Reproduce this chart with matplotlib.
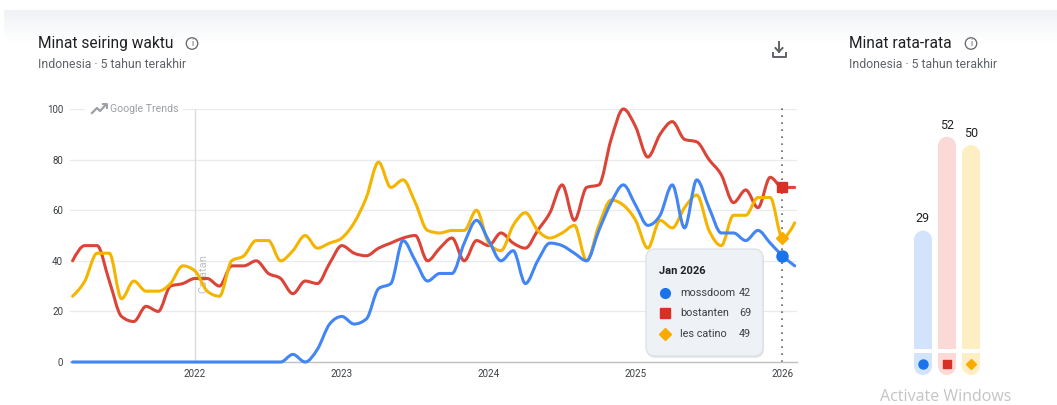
import matplotlib
matplotlib.use("Agg")
import matplotlib.pyplot as plt
import numpy as np
import pandas as pd
from matplotlib.patches import FancyBboxPatch, Ellipse, Rectangle, PathPatch
from matplotlib.lines import Line2D
from matplotlib.path import Path

plt.rcParams['font.family'] = ['Roboto', 'DejaVu Sans']

# ---------------- data ----------------
months = pd.date_range("2021-03-01", periods=60, freq="MS")
mossdoom = [0, 0, 0, 0, 0, 0, 0, 0, 0, 0, 0, 0, 0, 0, 0, 0, 0, 0, 3, 0,
            5, 15, 18, 15, 17, 29, 31, 48, 40, 32, 35, 35, 47, 56, 48, 40, 44, 31, 40, 47,
            46, 43, 40, 52, 63, 70, 62, 54, 58, 70, 53, 72, 61, 51, 51, 48, 52, 47, 42, 38]
bostanten = [40, 46, 46, 32, 18, 16, 22, 20, 30, 31, 33, 33, 30, 38, 38, 40, 35, 33, 27, 32,
             31, 39, 46, 43, 42, 45, 47, 49, 50, 40, 45, 49, 40, 48, 46, 51, 47, 45, 52, 59,
             70, 56, 69, 70, 88, 100, 93, 81, 90, 95, 88, 87, 80, 74, 63, 68, 61, 73, 69, 69]
les_catino = [26, 32, 43, 43, 25, 32, 28, 28, 31, 38, 36, 28, 26, 40, 42, 48, 48, 40, 44, 50,
              45, 47, 49, 55, 65, 79, 69, 72, 63, 52, 51, 52, 52, 60, 47, 44, 54, 59, 52, 49,
              51, 54, 40, 54, 64, 62, 56, 45, 56, 53, 61, 66, 52, 46, 58, 58, 65, 65, 49, 55]
series_names = ["mossdoom", "bostanten", "les catino"]
avg_values = [29, 52, 50]
year_ticks = [2022, 2023, 2024, 2025, 2026]
y_ticks = [0, 20, 40, 60, 80, 100]
hover_label = "Jan 2026"
hover_index = 58

# ---------------- style ----------------
line_colors = ["#4285f4", "#db4437", "#f4b400"]
marker_colors = ["#1a73e8", "#d93025", "#f9ab00"]
light_colors = ["#d3e3fc", "#fbd9d6", "#feeec4"]
markers = ["o", "s", "D"]

W, H = 1057, 405
fig = plt.figure(figsize=(W / 100, H / 100), dpi=100)
fig.patch.set_facecolor("white")


def fx(px):
    return px / W


def fy(py):
    return 1 - py / H


def smooth_path(xs, ys):
    """Monotone cubic (d3 monotoneX-style) Bezier path through the data points."""
    xs = np.asarray(xs, float)
    ys = np.asarray(ys, float)
    h = np.diff(xs)
    s = np.diff(ys) / h
    n = len(xs)
    t = np.zeros(n)
    for i in range(1, n - 1):
        p = (s[i - 1] * h[i] + s[i] * h[i - 1]) / (h[i - 1] + h[i])
        t[i] = (np.sign(s[i - 1]) + np.sign(s[i])) * min(abs(s[i - 1]), abs(s[i]), 0.5 * abs(p))
    t[0] = (3 * s[0] - t[1]) / 2
    t[-1] = (3 * s[-1] - t[-2]) / 2
    verts = [(xs[0], ys[0])]
    codes = [Path.MOVETO]
    for i in range(n - 1):
        d = h[i] / 3
        verts += [(xs[i] + d, ys[i] + t[i] * d), (xs[i + 1] - d, ys[i + 1] - t[i + 1] * d),
                  (xs[i + 1], ys[i + 1])]
        codes += [Path.CURVE4] * 3
    return Path(verts, codes)


# top gradient band
bg = fig.add_axes([fx(4), fy(42), 1 - fx(4), 32 / H], zorder=-5)
grad = np.linspace(0, 1, 50).reshape(-1, 1)
top = np.array([0.937, 0.949, 0.965])
bot = np.array([1.0, 1.0, 1.0])
img = top[None, None, :] * (1 - grad[:, :, None]) + bot[None, None, :] * grad[:, :, None]
bg.imshow(img, aspect="auto", extent=[0, 1, 0, 1])
bg.axis("off")

# ---------------- main line chart ----------------
x = np.array(months.year + (months.month - 1) / 12.0)
ax = fig.add_axes([fx(70), fy(362), 727 / W, 253 / H])
ax.set_xlim(2021.149, 2026.099)
ax.set_ylim(0, 100)

for yv in y_ticks[1:]:
    ax.axhline(yv, color="#e8eaed", lw=0.9, zorder=0)
for s in ["top", "right", "left"]:
    ax.spines[s].set_visible(False)
ax.spines["bottom"].set_color("#bdc1c6")
ax.spines["bottom"].set_linewidth(1.0)

ax.set_yticks(y_ticks)
ax.set_yticklabels([str(v) for v in y_ticks])
ax.set_xticks(year_ticks)
ax.set_xticklabels([str(v) for v in year_ticks])
ax.tick_params(axis="y", length=0, pad=5, labelsize=7, labelcolor="#3c4043")
ax.tick_params(axis="x", length=0, pad=5, labelsize=7, labelcolor="#3c4043")

# annotation line (Catatan)
ax.plot([2022, 2022], [0, 100], color="#dadce0", lw=1.0, zorder=1)
ax.text(2022 + 8 / 146.9, 35, "Catatan", rotation=90, ha="center", va="center",
        fontsize=8, color="#bdc1c6", zorder=2)

series = [mossdoom, bostanten, les_catino]
for k in [1, 2, 0]:
    patch = PathPatch(smooth_path(x, series[k]), facecolor="none", edgecolor=line_colors[k],
                      lw=2.2, capstyle="round", joinstyle="round", zorder=3 + (k == 0), clip_on=False)
    ax.add_patch(patch)

# hover line
hx = x[hover_index]
ax.plot([hx, hx], [0, 101], color="#5f6368", lw=1.2, ls=(0, (1, 3.2)), zorder=2, clip_on=False)
msizes = [8, 7.5, 6.5]
for k in range(3):
    ax.plot(hx, series[k][hover_index], marker=markers[k], ms=msizes[k],
            color=marker_colors[k], mec=marker_colors[k], zorder=6, clip_on=False)

# Google Trends watermark
fig.patches.append(Rectangle((fx(85), fy(113)), (183 - 85) / W, 9 / H,
                             transform=fig.transFigure, facecolor="white", edgecolor="none", zorder=2))
fig.text(fx(110), fy(108.5), "Google Trends", fontsize=7.6, color="#9aa0a6", va="center", ha="left", zorder=3)
icon_px = [(92, 113), (97, 108), (100, 111), (106, 104.5)]
fig.lines.append(Line2D([fx(p[0]) for p in icon_px], [fy(p[1]) for p in icon_px],
                        transform=fig.transFigure, color="#9aa0a6", lw=1.6, zorder=3,
                        solid_joinstyle="round"))
fig.lines.append(Line2D([fx(103), fx(107), fx(107)], [fy(104), fy(104), fy(108)],
                        transform=fig.transFigure, color="#9aa0a6", lw=1.4, zorder=3))

# tooltip
tx0, ty0, tx1, ty1 = 646, 249, 763, 356
shadow = FancyBboxPatch((fx(tx0 + 1), fy(ty1 + 2)), (tx1 - tx0) / W, (ty1 - ty0) / H,
                        boxstyle="round,pad=0,rounding_size=%f" % (9 / W),
                        mutation_aspect=W / H, transform=fig.transFigure,
                        facecolor="#c8ccd2", edgecolor="none", alpha=0.45, zorder=7)
fig.patches.append(shadow)
tip = FancyBboxPatch((fx(tx0), fy(ty1)), (tx1 - tx0) / W, (ty1 - ty0) / H,
                     boxstyle="round,pad=0,rounding_size=%f" % (9 / W),
                     mutation_aspect=W / H, transform=fig.transFigure,
                     facecolor="#eef1f6", edgecolor="#d9dde3", lw=0.8, zorder=8)
fig.patches.append(tip)
fig.text(fx(659), fy(271.5), hover_label, fontsize=8, fontweight="bold", color="#202124",
         va="center", ha="left", zorder=9)
row_y = [292.5, 313, 334]
tip_ms = [7, 6.5, 6.5]
for k in range(3):
    fig.lines.append(Line2D([fx(664.5)], [fy(row_y[k])], marker=markers[k], ms=tip_ms[k],
                            color=marker_colors[k], transform=fig.transFigure, zorder=9))
    fig.text(fx(680.5), fy(row_y[k]), series_names[k], fontsize=7.8, color="#3c4043",
             va="center", ha="left", zorder=9)
    fig.text(fx(751), fy(row_y[k]), str(series[k][hover_index]), fontsize=7.8, color="#3c4043",
             va="center", ha="right", zorder=9)


# titles
def info_icon(cx, cy):
    fig.patches.append(Ellipse((fx(cx), fy(cy)), 11.5 / W, 11.5 / H, transform=fig.transFigure,
                               facecolor="none", edgecolor="#5f6368", lw=0.9, zorder=5))
    fig.text(fx(cx), fy(cy + 0.3), "i", fontsize=6.5, color="#5f6368", ha="center", va="center", zorder=5)


fig.text(fx(38), fy(43.5), "Minat seiring waktu", fontsize=11.2, color="#202124", va="center", ha="left")
info_icon(192, 43.5)
fig.text(fx(38), fy(65), "Indonesia · 5 tahun terakhir", fontsize=8.8, color="#5f6368", va="center", ha="left")

fig.text(fx(849), fy(43.5), "Minat rata-rata", fontsize=11.2, color="#202124", va="center", ha="left")
info_icon(971, 43.5)
fig.text(fx(849), fy(65), "Indonesia · 5 tahun terakhir", fontsize=8.8, color="#5f6368", va="center", ha="left")

# download icon
dl = "#5f6368"
fig.lines.append(Line2D([fx(779), fx(779)], [fy(41.5), fy(51.5)], transform=fig.transFigure, color=dl, lw=1.4))
fig.lines.append(Line2D([fx(775.5), fx(779), fx(782.5)], [fy(48), fy(51.8), fy(48)],
                        transform=fig.transFigure, color=dl, lw=1.4))
fig.lines.append(Line2D([fx(772.5), fx(772.5), fx(785.5), fx(785.5)], [fy(52.5), fy(56.5), fy(56.5), fy(52.5)],
                        transform=fig.transFigure, color=dl, lw=1.4))

# ---------------- average bars ----------------
ppu = 4.08  # pixels per unit
ax2 = fig.add_axes([fx(899), fy(349), 96 / W, (349 - 100) / H])
ax2.set_xlim(-1, 3)
ax2.set_ylim(0, (349 - 100) / ppu)
ax2.axis("off")
bw = 0.75
r = 9 / ppu
cap_top = -4 / ppu
cap_bot = -26 / ppu
for k, v in enumerate(avg_values):
    ax2.bar(k, v - r, width=bw, bottom=0, color=light_colors[k], edgecolor="none")
    ax2.add_patch(Ellipse((k, v - r), bw, 2 * r, facecolor=light_colors[k], edgecolor="none"))
    ax2.text(k, v + 2.9, str(v), ha="center", va="center", fontsize=9, color="#202124")
    ax2.add_patch(Rectangle((k - bw / 2, cap_bot + r), bw, cap_top - (cap_bot + r),
                            facecolor=light_colors[k], edgecolor="none", clip_on=False))
    ax2.add_patch(Ellipse((k, cap_bot + r), bw, 2 * r, facecolor=light_colors[k],
                          edgecolor="none", clip_on=False))
    ax2.plot(k, -14.5 / ppu, marker=markers[k], ms=[6.5, 6, 5.5][k], color=marker_colors[k],
             clip_on=False, zorder=5)

fig.text(fx(880), fy(397), "Activate Windows", fontsize=11.5, color="#c4c4c4", va="center", ha="left",
         family=["Open Sans", "DejaVu Sans"])

fig.savefig("out.png", dpi=100, facecolor="white")
